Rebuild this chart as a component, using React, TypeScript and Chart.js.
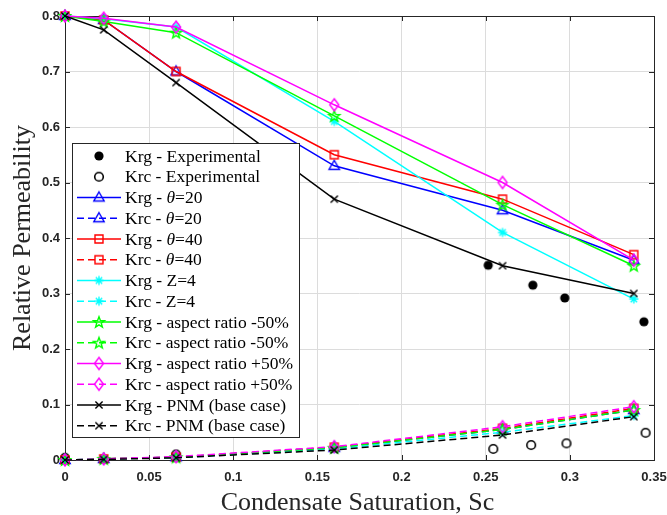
import React, { useEffect, useRef } from 'react';
import { Chart, registerables } from 'chart.js';

Chart.register(...registerables);

// ---------- data ----------
const saturation = [0, 0.023, 0.066, 0.16, 0.26, 0.338];

const expKrgX = [0.2515, 0.278, 0.297, 0.344];
const expKrgY = [0.351, 0.315, 0.292, 0.249];
const expKrcX = [0, 0.066, 0.2545, 0.277, 0.298, 0.345];
const expKrcY = [0.004, 0.01, 0.02, 0.027, 0.03, 0.049];

const krgTheta20 = [0.8, 0.793, 0.70, 0.53, 0.45, 0.36];
const krcTheta20 = [0, 0.002, 0.005, 0.022, 0.055, 0.09];
const krgTheta40 = [0.8, 0.793, 0.70, 0.55, 0.47, 0.37];
const krcTheta40 = [0, 0.002, 0.005, 0.023, 0.057, 0.093];
const krgZ4 = [0.8, 0.795, 0.78, 0.61, 0.41, 0.29];
const krcZ4 = [0, 0.002, 0.004, 0.02, 0.05, 0.08];
const krgArMinus = [0.8, 0.79, 0.77, 0.62, 0.46, 0.35];
const krcArMinus = [0, 0.002, 0.005, 0.022, 0.055, 0.09];
const krgArPlus = [0.8, 0.796, 0.78, 0.64, 0.50, 0.36];
const krcArPlus = [0, 0.002, 0.006, 0.024, 0.06, 0.096];
const krgPnm = [0.8, 0.775, 0.68, 0.47, 0.35, 0.30];
const krcPnm = [0, 0.001, 0.004, 0.018, 0.045, 0.078];

const xTicks = [0, 0.05, 0.1, 0.15, 0.2, 0.25, 0.3, 0.35];
const yTicks = [0, 0.1, 0.2, 0.3, 0.4, 0.5, 0.6, 0.7, 0.8];

const xTitle = 'Condensate Saturation, Sc';
const yTitle = 'Relative Permeability';

// ---------- markers ----------
type MarkerKind = 'dot' | 'circle' | 'triangle' | 'square' | 'asterisk' | 'pentagram' | 'diamond' | 'x';

function makeMarker(kind: MarkerKind, color: string): HTMLCanvasElement {
  const s = 16;
  const c = document.createElement('canvas');
  c.width = s;
  c.height = s;
  const g = c.getContext('2d')!;
  g.strokeStyle = color;
  g.fillStyle = color;
  g.lineWidth = 1.4;
  const m = s / 2;
  g.beginPath();
  switch (kind) {
    case 'dot':
      g.arc(m, m, 4.6, 0, Math.PI * 2);
      g.fill();
      break;
    case 'circle':
      g.lineWidth = 1.6;
      g.arc(m, m, 4.3, 0, Math.PI * 2);
      g.stroke();
      break;
    case 'triangle':
      g.moveTo(m, m - 5.5);
      g.lineTo(m + 5.2, m + 3.5);
      g.lineTo(m - 5.2, m + 3.5);
      g.closePath();
      g.stroke();
      break;
    case 'square':
      g.rect(m - 4, m - 4, 8, 8);
      g.stroke();
      break;
    case 'asterisk':
      for (let i = 0; i < 4; i++) {
        const a = (i * Math.PI) / 4;
        g.moveTo(m + Math.cos(a) * 4.5, m + Math.sin(a) * 4.5);
        g.lineTo(m - Math.cos(a) * 4.5, m - Math.sin(a) * 4.5);
      }
      g.stroke();
      break;
    case 'pentagram':
      for (let i = 0; i < 10; i++) {
        const r = i % 2 === 0 ? 5.8 : 2.4;
        const a = -Math.PI / 2 + (i * Math.PI) / 5;
        const px = m + Math.cos(a) * r;
        const py = m + Math.sin(a) * r + 0.5;
        if (i === 0) g.moveTo(px, py);
        else g.lineTo(px, py);
      }
      g.closePath();
      g.stroke();
      break;
    case 'diamond':
      g.moveTo(m, m - 6);
      g.lineTo(m + 4.5, m);
      g.lineTo(m, m + 6);
      g.lineTo(m - 4.5, m);
      g.closePath();
      g.stroke();
      break;
    case 'x':
      g.moveTo(m - 3.6, m - 3.6);
      g.lineTo(m + 3.6, m + 3.6);
      g.moveTo(m + 3.6, m - 3.6);
      g.lineTo(m - 3.6, m + 3.6);
      g.stroke();
      break;
  }
  return c;
}

type Part = { t: string; italic?: boolean };
type Entry = { parts: Part[]; color: string; line: 'none' | 'solid' | 'dash'; marker: MarkerKind };

const theta = (prefix: string, suffix: string): Part[] => [{ t: prefix }, { t: 'θ', italic: true }, { t: suffix }];

const entries: Entry[] = [
  { parts: [{ t: 'Krg - Experimental' }], color: '#000000', line: 'none', marker: 'dot' },
  { parts: [{ t: 'Krc - Experimental' }], color: '#000000', line: 'none', marker: 'circle' },
  { parts: theta('Krg - ', '=20'), color: '#0000ff', line: 'solid', marker: 'triangle' },
  { parts: theta('Krc - ', '=20'), color: '#0000ff', line: 'dash', marker: 'triangle' },
  { parts: theta('Krg - ', '=40'), color: '#ff0000', line: 'solid', marker: 'square' },
  { parts: theta('Krc - ', '=40'), color: '#ff0000', line: 'dash', marker: 'square' },
  { parts: [{ t: 'Krg - Z=4' }], color: '#00ffff', line: 'solid', marker: 'asterisk' },
  { parts: [{ t: 'Krc - Z=4' }], color: '#00ffff', line: 'dash', marker: 'asterisk' },
  { parts: [{ t: 'Krg - aspect ratio -50%' }], color: '#00ff00', line: 'solid', marker: 'pentagram' },
  { parts: [{ t: 'Krc - aspect ratio -50%' }], color: '#00ff00', line: 'dash', marker: 'pentagram' },
  { parts: [{ t: 'Krg - aspect ratio +50%' }], color: '#ff00ff', line: 'solid', marker: 'diamond' },
  { parts: [{ t: 'Krc - aspect ratio +50%' }], color: '#ff00ff', line: 'dash', marker: 'diamond' },
  { parts: [{ t: 'Krg - PNM (base case)' }], color: '#000000', line: 'solid', marker: 'x' },
  { parts: [{ t: 'Krc - PNM (base case)' }], color: '#000000', line: 'dash', marker: 'x' },
];

const seriesY: number[][] = [
  krgTheta20, krcTheta20, krgTheta40, krcTheta40, krgZ4, krcZ4,
  krgArMinus, krcArMinus, krgArPlus, krcArPlus, krgPnm, krcPnm,
];

const AXIS_COLOR = '#262626';
const SERIF = '"Liberation Serif", "Times New Roman", serif';
const SANS = '"Liberation Sans", Arial, sans-serif';

export default function App() {
  const ref = useRef<HTMLCanvasElement | null>(null);

  useEffect(() => {
    document.body.style.margin = '0';
    const canvas = ref.current!;
    const markers = entries.map((e) => makeMarker(e.marker, e.color));

    const datasets: any[] = [];
    const n = entries.length;
    datasets.push({
      label: 'Krg - Experimental',
      data: expKrgX.map((x, i) => ({ x, y: expKrgY[i] })),
      showLine: false,
      pointStyle: markers[0],
      order: n,
      clip: false,
    });
    datasets.push({
      label: 'Krc - Experimental',
      data: expKrcX.map((x, i) => ({ x, y: expKrcY[i] })),
      showLine: false,
      pointStyle: markers[1],
      order: n - 1,
      clip: false,
    });
    seriesY.forEach((ys, k) => {
      const e = entries[k + 2];
      datasets.push({
        label: e.parts.map((p) => p.t).join(''),
        data: saturation.map((x, i) => ({ x, y: ys[i] })),
        showLine: true,
        borderColor: e.color,
        borderWidth: 1.5,
        borderDash: e.line === 'dash' ? [7, 4] : [],
        pointStyle: markers[k + 2],
        order: n - 2 - k,
        clip: false,
        tension: 0,
      });
    });

    const framePlugin = {
      id: 'matlabFrame',
      beforeDatasetsDraw(chart: any) {
        const { ctx, chartArea: a, scales } = chart;
        ctx.save();
        ctx.strokeStyle = AXIS_COLOR;
        ctx.lineWidth = 1;
        ctx.strokeRect(Math.round(a.left) + 0.5, Math.round(a.top) + 0.5, Math.round(a.right - a.left), Math.round(a.bottom - a.top));
        ctx.beginPath();
        const tl = 5;
        xTicks.forEach((v) => {
          const px = Math.round(scales.x.getPixelForValue(v)) + 0.5;
          ctx.moveTo(px, a.bottom);
          ctx.lineTo(px, a.bottom - tl);
          ctx.moveTo(px, a.top);
          ctx.lineTo(px, a.top + tl);
        });
        yTicks.forEach((v) => {
          const py = Math.round(scales.y.getPixelForValue(v)) + 0.5;
          ctx.moveTo(a.left, py);
          ctx.lineTo(a.left + tl, py);
          ctx.moveTo(a.right, py);
          ctx.lineTo(a.right - tl, py);
        });
        ctx.stroke();
        ctx.restore();
      },
      afterDraw(chart: any) {
        const { ctx, chartArea: a } = chart;
        ctx.save();
        // axis titles
        ctx.fillStyle = AXIS_COLOR;
        ctx.font = `26px ${SERIF}`;
        ctx.textAlign = 'center';
        ctx.textBaseline = 'alphabetic';
        ctx.fillText(xTitle, (a.left + a.right) / 2 - 2, 510);
        ctx.save();
        ctx.translate(30, (a.top + a.bottom) / 2);
        ctx.rotate(-Math.PI / 2);
        ctx.fillText(yTitle, 0, 0);
        ctx.restore();

        // legend
        const bx = 72.5, by = 143.5, bw = 227, bh = 294;
        ctx.fillStyle = '#ffffff';
        ctx.fillRect(bx, by, bw, bh);
        ctx.strokeStyle = AXIS_COLOR;
        ctx.lineWidth = 1;
        ctx.strokeRect(bx, by, bw, bh);
        const rowH = 20.75;
        entries.forEach((e, i) => {
          const cy = 156 + i * rowH;
          if (e.line !== 'none') {
            ctx.save();
            ctx.strokeStyle = e.color;
            ctx.lineWidth = 1.5;
            ctx.setLineDash(e.line === 'dash' ? [7, 4] : []);
            ctx.beginPath();
            ctx.moveTo(77, cy);
            ctx.lineTo(121, cy);
            ctx.stroke();
            ctx.restore();
          }
          const mk = markers[i];
          ctx.drawImage(mk, 99 - mk.width / 2, cy - mk.height / 2);
          let tx = 125;
          ctx.fillStyle = '#000000';
          ctx.textAlign = 'left';
          ctx.textBaseline = 'middle';
          e.parts.forEach((p) => {
            ctx.font = `${p.italic ? 'italic ' : ''}17.5px ${SERIF}`;
            ctx.fillText(p.t, tx, cy + 1);
            tx += ctx.measureText(p.t).width;
          });
        });
        ctx.restore();
      },
    };

    const fmt = (v: any) => {
      const r = Math.round(Number(v) * 100) / 100;
      return String(r);
    };

    const chart = new Chart(canvas, {
      type: 'scatter',
      data: { datasets },
      plugins: [framePlugin],
      options: {
        animation: false,
        responsive: false,
        devicePixelRatio: 1,
        layout: { padding: { top: 16, right: 13, left: 0, bottom: 0 } },
        plugins: { legend: { display: false }, tooltip: { enabled: false } },
        elements: { point: { radius: 5, hoverRadius: 5 } },
        scales: {
          x: {
            type: 'linear',
            min: 0,
            max: 0.35,
            afterFit: (s: any) => {
              s.height = 55;
              s.paddingLeft = 0;
              s.paddingRight = 0;
            },
            afterBuildTicks: (s: any) => {
              s.ticks = xTicks.map((v) => ({ value: v }));
            },
            grid: { color: '#dcdcdc', lineWidth: 1, drawTicks: false },
            border: { display: false },
            ticks: {
              padding: 10,
              color: AXIS_COLOR,
              font: { family: SANS, size: 13, weight: 'bold' },
              callback: fmt,
              maxRotation: 0,
            },
          },
          y: {
            type: 'linear',
            min: 0,
            max: 0.8,
            afterFit: (s: any) => {
              s.width = 65;
              s.paddingTop = 0;
              s.paddingBottom = 0;
            },
            afterBuildTicks: (s: any) => {
              s.ticks = yTicks.map((v) => ({ value: v }));
            },
            grid: { color: '#dcdcdc', lineWidth: 1, drawTicks: false },
            border: { display: false },
            ticks: {
              padding: 5,
              color: AXIS_COLOR,
              font: { family: SANS, size: 13, weight: 'bold' },
              callback: fmt,
            },
          },
        },
      } as any,
    });

    return () => chart.destroy();
  }, []);

  return <canvas ref={ref} width={667} height={515} style={{ display: 'block' }} />;
}
